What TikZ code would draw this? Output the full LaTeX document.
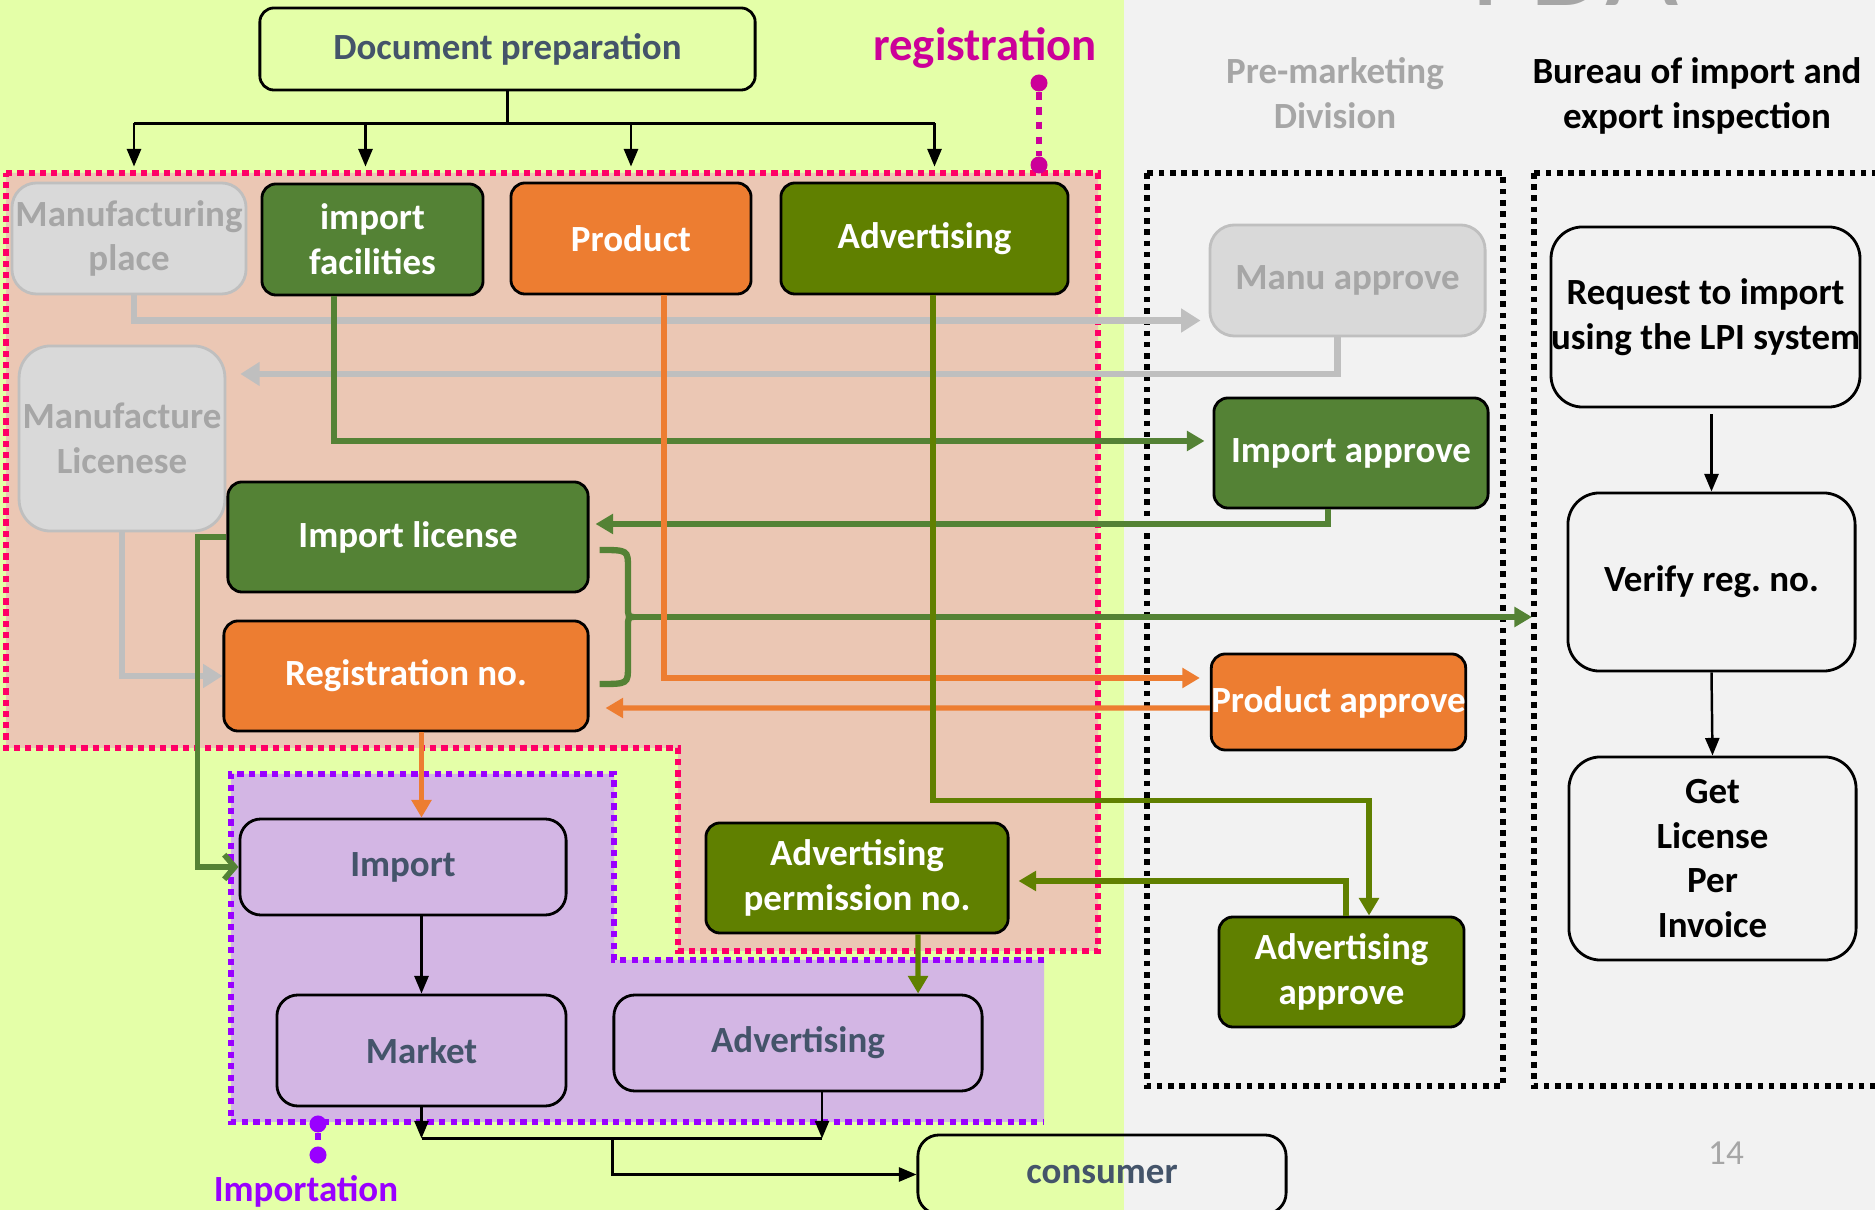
\documentclass[tikz,border=0pt]{standalone}
\usepackage{fontspec}
\setmainfont{Carlito}
\usepackage{xcolor}
\usepackage{tikz}
\usetikzlibrary{arrows.meta,positioning,calc}

\definecolor{bgyellow}{RGB}{228,255,168}
\definecolor{bggray}{RGB}{242,242,242}
\definecolor{regfill}{RGB}{235,199,180}
\definecolor{regline}{RGB}{255,0,102}
\definecolor{regtext}{RGB}{204,0,153}
\definecolor{impfill}{RGB}{211,182,228}
\definecolor{impline}{RGB}{153,0,255}
\definecolor{boxgreen}{RGB}{84,130,53}
\definecolor{boxolive}{RGB}{96,128,0}
\definecolor{boxorange}{RGB}{237,125,49}
\definecolor{boxgray}{RGB}{217,217,217}
\definecolor{linegray}{RGB}{191,191,191}
\definecolor{textgray}{RGB}{166,166,166}
\definecolor{textslate}{RGB}{68,84,106}

\begin{document}
\begin{tikzpicture}[
    x=0.01cm, y=-0.01cm,
    font=\fontsize{10.5}{12.7}\selectfont\bfseries,
    box/.style={draw, line width=0.8pt, rounded corners=4pt, align=center, inner sep=1pt},
    graybox/.style={box, fill=boxgray, draw=linegray, text=textgray, rounded corners=7pt},
    greenbox/.style={box, fill=boxgreen, text=white},
    olivebox/.style={box, fill=boxolive, text=white},
    orangebox/.style={box, fill=boxorange, text=white},
    lilacbox/.style={box, fill=impfill, text=textslate, rounded corners=6pt},
    bureaubox/.style={box, fill=bggray, text=black, rounded corners=9pt},
    dotbox/.style={draw=black, line width=1.6pt, dash pattern=on 1.6pt off 1.6pt},
    blkarrow/.style={-{Triangle[length=5pt,width=4pt]}, line width=0.7pt},
    grayarrow/.style={-{Triangle[length=5.5pt,width=6.5pt]}, draw=linegray, line width=1.9pt},
    greenarrow/.style={-{Triangle[length=5pt,width=5.5pt]}, draw=boxgreen, line width=1.5pt},
    olivearrow/.style={-{Triangle[length=5pt,width=5.5pt]}, draw=boxolive, line width=1.5pt},
    orangearrow/.style={-{Triangle[length=5pt,width=5.5pt]}, draw=boxorange, line width=1.5pt},
    regdot/.style={circle, fill=regtext, inner sep=0pt, minimum size=0.17cm},
    impdot/.style={circle, fill=impline, inner sep=0pt, minimum size=0.17cm}
]
\clip (0,0) rectangle (1875,1210);

% backgrounds and regions
\fill[bgyellow] (0,0) rectangle (1124,1210);
\fill[bggray] (1124,0) rectangle (1875,1210);
\filldraw[fill=regfill, draw=regline, line width=1.6pt, dash pattern=on 1.8pt off 1.4pt]
    (6,173) -- (1098,173) -- (1098,951) -- (678,951) -- (678,748) -- (6,748) -- cycle;
\fill[impfill] (231,774) -- (614,774) -- (614,960) -- (1044,960) -- (1044,1122) -- (231,1122) -- cycle;
\draw[impline, line width=1.6pt, dash pattern=on 1.8pt off 1.5pt]
    (1044,960) -- (614,960) -- (614,774) -- (231,774) -- (231,1122) -- (1044,1122);
\draw[dotbox] (1147,173) rectangle (1503,1086);
\draw[dotbox] (1534,173) rectangle (1890,1086);

% titles
\node[text=textgray, font=\fontsize{36}{40}\selectfont\mdseries, anchor=base] (fda) at (1575,6) {FDA};
\node[text=regtext, font=\fontsize{13.3}{16}\selectfont\bfseries] (regtitle) at (985,48) {registration};
\node[text=impline] (imptitle) at (306,1191) {Importation};
\node[text=textgray, align=center] (pmtitle) at (1335,93) {Pre-marketing\\Division};
\node[text=black, align=center] (butitle) at (1697,96) {Bureau of import and\\export inspection};
\node[text=textgray, font=\fontsize{10}{12}\selectfont\mdseries] (pagenum) at (1726,1153) {14};

% applicant side
\node[box, fill=bgyellow, text=textslate, minimum width=4.95cm, minimum height=0.82cm] (docprep) at (507.5,49) {Document preparation};
\node[graybox, minimum width=2.22cm, minimum height=1.11cm] (manuplace) at (129,238.5) {Manufacturing\\place};
\node[greenbox, minimum width=2.21cm, minimum height=1.11cm] (impfac) at (372.5,239.5) {import\\facilities};
\node[orangebox, minimum width=2.40cm, minimum height=1.11cm] (product) at (631,238.5) {Product};
\node[olivebox, minimum width=2.87cm, minimum height=1.11cm] (advert) at (924.5,238.5) {Advertising};
\node[graybox, minimum width=1.94cm, minimum height=1.85cm, rounded corners=9pt] (manulic) at (122,438.5) {Manufacture\\Licenese};
\node[greenbox, minimum width=3.60cm, minimum height=1.10cm] (implic) at (408,537) {Import license};
\node[orangebox, minimum width=3.64cm, minimum height=1.10cm] (regno) at (406,676) {Registration no.};
\node[olivebox, minimum width=3.02cm, minimum height=1.10cm] (advperm) at (857,878) {Advertising\\permission no.};
\node[lilacbox, minimum width=3.26cm, minimum height=0.96cm] (import) at (403,867) {Import};
\node[lilacbox, minimum width=2.89cm, minimum height=1.11cm] (market) at (421.5,1050.5) {Market};
\node[lilacbox, minimum width=3.68cm, minimum height=0.96cm] (advimp) at (798,1043) {Advertising};
\node[box, text=textslate, minimum width=3.68cm, minimum height=0.79cm, rounded corners=6pt] (consumer) at (1102,1174.5) {consumer};

% FDA side
\node[graybox, minimum width=2.75cm, minimum height=1.11cm] (manuapp) at (1347.5,280.5) {Manu approve};
\node[greenbox, minimum width=2.74cm, minimum height=1.10cm] (impapp) at (1351,453) {Import approve};
\node[orangebox, minimum width=2.53cm, minimum height=0.96cm, inner xsep=0pt] (prodapp) at (1338.5,702) {Product approve};
\node[olivebox, minimum width=2.45cm, minimum height=1.10cm] (advapp) at (1341.5,972) {Advertising\\approve};
\node[bureaubox, minimum width=3.03cm, minimum height=1.80cm, inner xsep=0pt] (request) at (1705.5,317) {Request to import\\using the LPI system};
\node[bureaubox, minimum width=2.87cm, minimum height=1.78cm] (verify) at (1711.5,582) {Verify reg.\ no.};
\node[bureaubox, minimum width=2.87cm, minimum height=2.03cm] (getlic) at (1712.5,858.5) {Get\\License\\Per\\Invoice};

% document split
\draw[line width=0.7pt] (docprep.south) -- ++(0,32) coordinate (split);
\draw[line width=0.7pt] ([xshift=0.05cm]manuplace.north |- split) -- ([xshift=0.1cm]advert.north |- split);
\draw[blkarrow, shorten >=0.15cm] ([xshift=0.05cm]manuplace.north |- split) -- ([xshift=0.05cm]manuplace.north);
\draw[blkarrow, shorten >=0.16cm] ([xshift=-0.07cm]impfac.north |- split) -- ([xshift=-0.07cm]impfac.north);
\draw[blkarrow, shorten >=0.15cm] (product.north |- split) -- (product.north);
\draw[blkarrow, shorten >=0.15cm] ([xshift=0.1cm]advert.north |- split) -- ([xshift=0.1cm]advert.north);

% gray links
\draw[grayarrow, shorten >=0.08cm] ([xshift=0.05cm]manuplace.south) |- ([yshift=-0.4cm]manuapp.west);
\draw[grayarrow, shorten >=0.14cm] ([xshift=-0.1cm]manuapp.south) |- ([yshift=0.645cm]manulic.east);
\draw[grayarrow] (manulic.south) |- (regno.west);

% green links
\draw[greenarrow, shorten >=0.08cm] ([xshift=-0.385cm]impfac.south) |- ([yshift=0.12cm]impapp.west);
\draw[greenarrow, shorten >=0.06cm] ([xshift=-0.23cm]impapp.south) |- ([yshift=0.13cm]implic.east);
\draw[draw=boxgreen, line width=1.6pt, -{Straight Barb[length=3pt,width=7pt,line width=1.6pt]}]
    (implic.west) -- ++(-29,0) |- (import.west);
\coordinate (brtip) at (634,617);
\coordinate (buin) at (1532,617);
\draw[draw=boxgreen, line width=1.8pt]
    ([shift={(10,13)}]implic.east) .. controls (628,550) .. (628,568) -- (628,606)
    .. controls (628,617) .. (brtip) .. controls (628,617) .. (628,628) -- (628,666)
    .. controls (628,684) .. ([shift={(10,8)}]regno.east);
\draw[greenarrow] (brtip) -- (buin);

% orange links
\draw[orangearrow, shorten >=0.1cm] ([xshift=0.33cm]product.south) |- ([yshift=0.24cm]prodapp.west);
\draw[orangearrow, shorten >=0.16cm] ([yshift=-0.06cm]prodapp.west) -- ([yshift=-0.32cm]regno.east);
\draw[orangearrow] (regno.south -| market.north) -- (import.north -| market.north);

% olive links
\draw[olivearrow] ([xshift=0.085cm]advert.south) -- ++(0,505) -| ([xshift=0.275cm]advapp.north);
\draw[olivearrow, shorten >=0.09cm] ([xshift=0.045cm]advapp.north) |- ([yshift=-0.03cm]advperm.east);
\draw[olivearrow] ([xshift=0.61cm]advperm.south) -- ([xshift=1.2cm]advimp.north);

% importation flow
\draw[blkarrow] (import.south -| market.north) -- (market.north);
\draw[blkarrow] (market.south) -- ++(0,31) coordinate (mkend);
\draw[blkarrow] ([xshift=0.24cm]advimp.south) -- ([xshift=0.24cm]advimp.south |- mkend);
\draw[line width=0.7pt] (mkend) -- ([xshift=0.24cm]advimp.south |- mkend);
\draw[blkarrow] (advimp.west |- mkend) |- (consumer.west);

% bureau flow
\draw[blkarrow, shorten <=0.06cm] (request.south -| verify.north) -- (verify.north);
\draw[blkarrow] (verify.south) -- (getlic.north);

% label pins
\node[regdot] (rdot1) at (1039,83) {};
\node[regdot] (rdot2) at (1039,165) {};
\draw[regtext, line width=1.5pt, dash pattern=on 2.2pt off 2pt] (rdot1) -- (rdot2);
\node[impdot] (idot1) at (318,1124) {};
\node[impdot] (idot2) at (318,1155) {};
\draw[impline, line width=1.5pt, dash pattern=on 2pt off 1.6pt] (idot1) -- (idot2);
\end{tikzpicture}
\end{document}
